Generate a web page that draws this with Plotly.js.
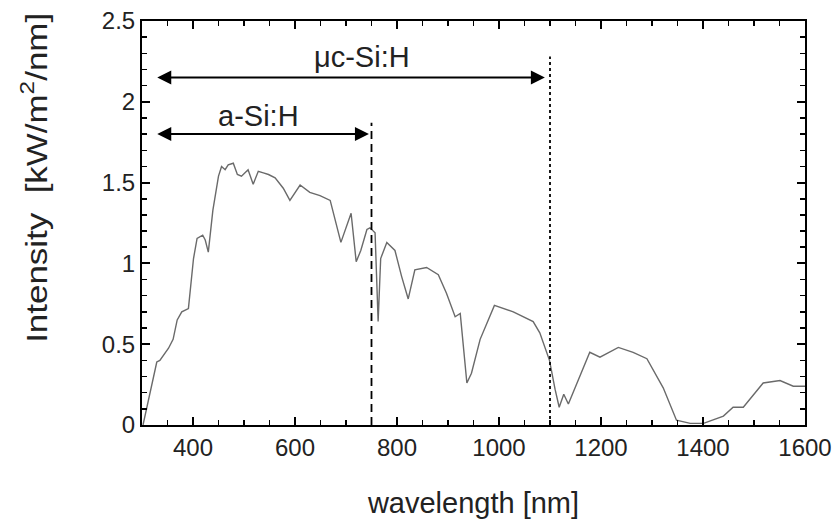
<!DOCTYPE html>
<html>
<head>
<meta charset="utf-8">
<script src="https://cdn.plot.ly/plotly-3.0.1.min.js"></script>
<style>html,body{margin:0;padding:0;background:#fff;}#chart{width:836px;height:522px;}</style>
</head>
<body>
<div id="chart"></div>
<script>
// Spectrum (wavelength in nm, intensity in kW/m^2/nm)
const wavelength = [302, 329, 335, 342, 352, 361, 369, 378, 391, 401, 408, 419, 424, 430, 439, 450, 456, 463, 469, 479, 487, 495, 508, 518, 528, 538, 548, 561, 577, 590, 610, 629, 649, 669, 678, 690, 710, 720, 729, 741, 747, 757, 763, 768, 780, 796, 809, 822, 835, 858, 881, 897, 914, 924, 937, 946, 963, 991, 1028, 1067, 1080, 1099, 1110, 1118, 1127, 1136, 1178, 1198, 1234, 1263, 1290, 1322, 1348, 1375, 1401, 1440, 1459, 1479, 1518, 1551, 1577, 1600];
const intensity  = [0.0, 0.39, 0.40, 0.43, 0.475, 0.53, 0.65, 0.70, 0.72, 1.03, 1.155, 1.175, 1.145, 1.07, 1.33, 1.54, 1.60, 1.58, 1.61, 1.62, 1.55, 1.54, 1.58, 1.49, 1.57, 1.56, 1.55, 1.53, 1.465, 1.39, 1.485, 1.44, 1.42, 1.39, 1.27, 1.13, 1.31, 1.01, 1.08, 1.21, 1.22, 1.19, 0.64, 1.03, 1.13, 1.08, 0.92, 0.78, 0.96, 0.975, 0.93, 0.815, 0.67, 0.69, 0.26, 0.32, 0.53, 0.74, 0.70, 0.64, 0.57, 0.40, 0.22, 0.11, 0.19, 0.13, 0.45, 0.42, 0.48, 0.45, 0.41, 0.23, 0.03, 0.01, 0.01, 0.055, 0.11, 0.11, 0.26, 0.275, 0.24, 0.24];

// Absorption ranges of the two absorber materials
const materials   = ["a-Si:H", "μc-Si:H"];
const rangeStart  = [327, 327];
const rangeEnd    = [745, 1090];
const arrowLevel  = [1.8, 2.15];
const labelX      = [528, 731];
const labelLevel  = [1.91, 2.275];
const cutoff      = [750, 1100];
const cutoffTop   = [1.87, 2.28];
const cutoffDash  = ["8px,5px", "3px,3px"];

const xTicks = [400, 600, 800, 1000, 1200, 1400, 1600];
const yTicks = [0, 0.5, 1, 1.5, 2, 2.5];

const font = "Liberation Sans, Arial, sans-serif";

const trace = {
  x: wavelength, y: intensity, type: "scatter", mode: "lines",
  line: {color: "#6a6a6a", width: 1.4}, hoverinfo: "skip"
};

const annotations = [];
const shapes = [];
for (let i = 0; i < materials.length; i++) {
  annotations.push({
    x: rangeEnd[i], y: arrowLevel[i], ax: rangeStart[i], ay: arrowLevel[i],
    xref: "x", yref: "y", axref: "x", ayref: "y",
    text: "", showarrow: true, arrowside: "end+start",
    arrowhead: 2, arrowsize: 1.4, arrowwidth: 2, arrowcolor: "#000"
  });
  annotations.push({
    x: labelX[i], y: labelLevel[i], xref: "x", yref: "y",
    text: materials[i], showarrow: false,
    font: {family: font, size: 29, color: "#222"}
  });
  shapes.push({
    type: "line", xref: "x", yref: "y",
    x0: cutoff[i], x1: cutoff[i], y0: 0, y1: cutoffTop[i],
    line: {color: "#000", width: 1.8, dash: cutoffDash[i]}
  });
}
// y-axis title (rotated annotation, placed as in the reference)
annotations.push({
  xref: "paper", yref: "paper", x: 0, y: 0.61, xshift: -108,
  xanchor: "center", yanchor: "middle", textangle: -90, showarrow: false,
  text: "Intensity  [kW/m<sup>2</sup>/nm]",
  font: {family: font, size: 30, color: "#222"}
});

const axisCommon = {
  showline: true, linecolor: "#000", linewidth: 2, mirror: "allticks",
  ticks: "inside", ticklen: 8, tickwidth: 2, tickcolor: "#000",
  showgrid: false, zeroline: false,
  tickfont: {family: font, size: 24, color: "#222"}
};

const layout = {
  width: 836, height: 522,
  margin: {l: 142, r: 31, t: 21, b: 97},
  paper_bgcolor: "#fff", plot_bgcolor: "#fff",
  showlegend: false,
  xaxis: Object.assign({}, axisCommon, {
    range: [300, 1600], tickmode: "linear", tick0: xTicks[0], dtick: xTicks[1] - xTicks[0],
    minor: {dtick: (xTicks[1] - xTicks[0]) / 4, ticks: "inside", ticklen: 5, tickcolor: "#000", tickwidth: 1.5},
    title: {text: "wavelength [nm]", font: {family: font, size: 29, color: "#222"}, standoff: 33}
  }),
  yaxis: Object.assign({}, axisCommon, {
    range: [0, 2.5], tickmode: "linear", tick0: yTicks[0], dtick: yTicks[1] - yTicks[0],
    minor: {dtick: (yTicks[1] - yTicks[0]) / 5, ticks: "inside", ticklen: 5, tickcolor: "#000", tickwidth: 1.5}
  }),
  annotations: annotations,
  shapes: shapes
};

Plotly.newPlot("chart", [trace], layout, {displayModeBar: false, staticPlot: true}).then(function(){
  // widen the rotated y title slightly, as in the reference
  Array.from(document.querySelectorAll('.annotation-text')).forEach(t => {
    if ((t.textContent || "").indexOf("Intensity") === 0) {
      t.setAttribute("textLength", "330");
      t.setAttribute("lengthAdjust", "spacingAndGlyphs");
    }
  });
});
</script>
</body>
</html>
